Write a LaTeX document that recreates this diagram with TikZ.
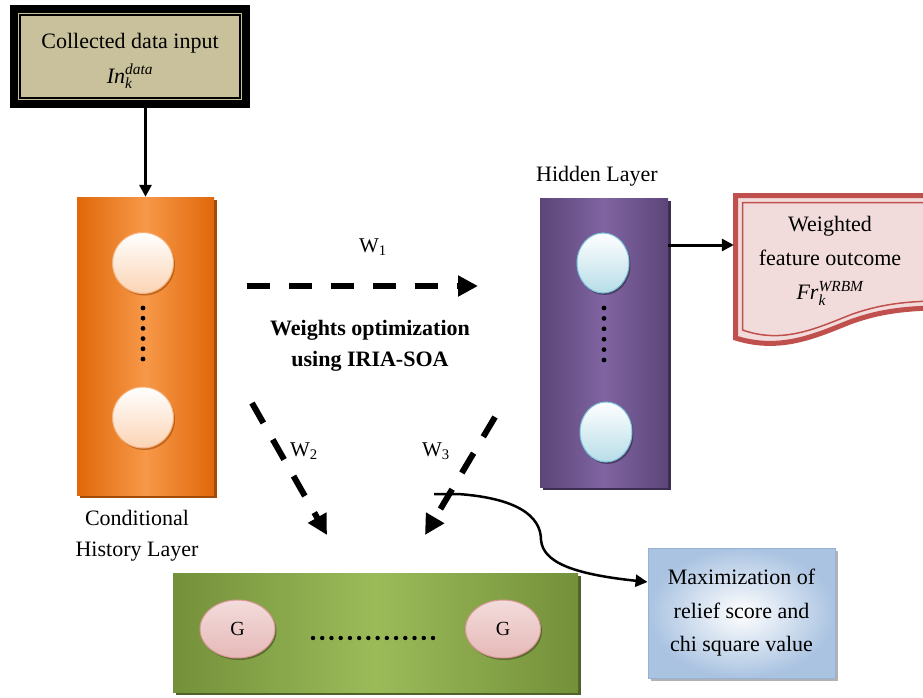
\documentclass[tikz,border=0pt]{standalone}
\usepackage{amsmath}
\usepackage{fontspec}
\setmainfont{Liberation Serif}
\usetikzlibrary{arrows.meta,shapes.geometric,shadows,calc}
\definecolor{beige}{RGB}{200,193,155}
\definecolor{orD}{RGB}{224,104,10}
\definecolor{orL}{RGB}{247,152,72}
\definecolor{orS}{RGB}{160,75,8}
\definecolor{peach}{RGB}{251,212,180}
\definecolor{peachB}{RGB}{245,175,120}
\definecolor{puD}{RGB}{92,70,120}
\definecolor{puL}{RGB}{128,100,162}
\definecolor{puS}{RGB}{60,46,80}
\definecolor{cyanL}{RGB}{183,221,232}
\definecolor{cyanB}{RGB}{120,195,215}
\definecolor{grD}{RGB}{116,144,58}
\definecolor{grL}{RGB}{155,187,89}
\definecolor{grS}{RGB}{79,98,40}
\definecolor{pinkL}{RGB}{242,220,219}
\definecolor{pinkD}{RGB}{230,185,184}
\definecolor{pinkB}{RGB}{217,150,148}
\definecolor{redB}{RGB}{192,80,77}
\definecolor{blL}{RGB}{170,195,225}
\definecolor{blB}{RGB}{149,179,215}
\pgfdeclarehorizontalshading{orsh}{100bp}{color(0bp)=(orD); color(25bp)=(orD); color(50bp)=(orL); color(75bp)=(orD); color(100bp)=(orD)}
\pgfdeclarehorizontalshading{push}{100bp}{color(0bp)=(puD); color(25bp)=(puD); color(50bp)=(puL); color(75bp)=(puD); color(100bp)=(puD)}
\pgfdeclarehorizontalshading{grsh}{100bp}{color(0bp)=(grD); color(25bp)=(grD); color(50bp)=(grL); color(75bp)=(grD); color(100bp)=(grD)}
\tikzset{
  txt/.style={inner sep=0pt, align=center},
  topbox/.style={rectangle, inner sep=0pt, minimum width=232pt, minimum height=95pt,
    fill=beige, draw=black, line width=8pt, align=center},
  orangebox/.style={rectangle, inner sep=0pt, minimum width=137pt, minimum height=298pt,
    shading=orsh,
    drop shadow={shadow xshift=3pt, shadow yshift=-3pt, fill=orS, opacity=1}},
  purplebox/.style={rectangle, inner sep=0pt, minimum width=128pt, minimum height=289pt,
    shading=push,
    drop shadow={shadow xshift=3pt, shadow yshift=-3pt, fill=puS, opacity=1}},
  greenbox/.style={rectangle, inner sep=0pt, minimum width=405pt, minimum height=119pt,
    shading=grsh,
    drop shadow={shadow xshift=3pt, shadow yshift=-3pt, fill=grS, opacity=1}},
  orcirc/.style={circle, inner sep=0pt, minimum size=61pt, top color=white, bottom color=peach,
    draw=peachB, line width=1pt,
    drop shadow={shadow xshift=1.5pt, shadow yshift=-2pt, fill=orS, opacity=0.6}},
  cycirc/.style={ellipse, inner sep=0pt, minimum width=52pt, minimum height=60pt, top color=white, bottom color=cyanL,
    draw=cyanB, line width=1pt,
    drop shadow={shadow xshift=1.5pt, shadow yshift=-2pt, fill=puS, opacity=0.7}},
  gell/.style={ellipse, inner sep=0pt, minimum width=75pt, minimum height=58pt, top color=pinkL, bottom color=pinkD,
    draw=pinkB, line width=1pt, font=\fontsize{20}{24}\selectfont,
    drop shadow={shadow xshift=1.5pt, shadow yshift=-2pt, fill=grS, opacity=0.8}},
  bluebox/.style={rectangle, inner sep=0pt, minimum width=187pt, minimum height=130pt,
    inner color=white, outer color=blL, draw=blB, line width=1pt, align=center,
    drop shadow={shadow xshift=3pt, shadow yshift=-3pt, fill=gray, opacity=0.6}},
  solidarr/.style={line width=3pt, -{Triangle[length=12pt,width=12pt]}},
  dasharr/.style={line width=6pt, dash pattern=on 23pt off 19pt, -{Triangle[length=20pt,width=20pt]}},
  wlbl/.style={inner sep=0pt, font=\fontsize{21}{25}\selectfont}
}
\begin{document}
\begin{tikzpicture}[x=1pt,y=-1pt,font=\fontsize{22}{35}\selectfont]
\useasboundingbox[fill=white] (0,0) rectangle (923,698);

% top input box
\node[topbox] (top) at (130,56.5) {};
\draw[line width=1.6pt] ($(top.north west)+(10,10)$) rectangle ($(top.south east)+(-10,-10)$);
\node[txt] (toptxt) at (130,61) {Collected data input\\ $\textit{In}_{\textit{k}}^{\textit{data}}$};

% conditional history layer
\node[orangebox] (cond) at (145.5,346) {};
\node[orcirc] (c1) at (143,263) {};
\node[orcirc] (c2) at (143,417.5) {};
\foreach \k in {0,...,5} \fill (143,308+10.2*\k) circle (2.4pt);
\node[txt, font=\fontsize{22}{31}\selectfont] (condlbl) at (137,536) {Conditional\\History Layer};

\draw[solidarr] (top.south -| cond.north) -- (cond.north);

% hidden layer
\node[purplebox] (hid) at (604,342.5) {};
\node[cycirc] (h1) at (603,263) {};
\node[cycirc] (h2) at (606,432) {};
\foreach \k in {0,...,5} \fill (604,308+10.4*\k) circle (2.4pt);
\node[txt] (hidlbl) at (597,176) {Hidden Layer};

% weighted feature outcome (document shape)
\fill[pinkL] (735.5,338) -- (735.5,195.5) -- (930,195.5) -- (930,308)
  .. controls (905,309) and (880,311) .. (850,322)
  .. controls (815,336) and (780,352) .. (735.5,338) -- cycle;
\draw[redB, line width=5pt, line join=miter] (930,308)
  .. controls (905,309) and (880,311) .. (850,322)
  .. controls (815,336) and (780,352) .. (735.5,338) -- (735.5,195.5) -- (930,195.5);
\draw[redB, line width=1.5pt, line join=miter] (930,301)
  .. controls (905,302) and (880,304) .. (850,315)
  .. controls (815,329) and (782,344) .. (742.5,330) -- (742.5,202.5) -- (930,202.5);
\node[txt, minimum width=192pt, font=\fontsize{22}{34}\selectfont] (wfo) at (830,261) {Weighted\\feature outcome\\$\textit{Fr}_{\textit{k}}^{\textit{WRBM}}$};

\draw[solidarr] (hid.east |- 0,245) -- (wfo.west |- 0,245);

% generator layer
\node[greenbox] (gb) at (375.5,632.5) {};
\node[gell] (g1) at (237.5,629) {G};
\node[gell] (g2) at (503,629) {G};
\foreach \k in {0,...,13} \fill (313+9.23*\k,638) circle (2.2pt);

% maximization box
\node[bluebox, font=\fontsize{22}{33.5}\selectfont] (maxb) at (741.5,613) {Maximization of\\relief score and\\chi square value};

% weight arrows
\coordinate (w1s) at (247,286);
\coordinate (w1e) at (478,286);
\coordinate (w2s) at (252,403);
\coordinate (w2e) at (327,535);
\coordinate (w3s) at (495,417);
\coordinate (w3e) at (425,535);
\draw[dasharr] (w1s) -- (w1e);
\draw[dasharr] (w2s) -- (w2e);
\draw[dasharr] (w3s) -- (w3e);
\node[wlbl] (w1l) at (373,247) {W\textsubscript{1}};
\node[wlbl] (w2l) at (304,451) {W\textsubscript{2}};
\node[wlbl] (w3l) at (436,451) {W\textsubscript{3}};
\node[txt, font=\bfseries\fontsize{22}{31}\selectfont] (opt) at (370,346) {Weights optimization\\using IRIA-SOA};

% curved connector to maximization box
\coordinate (cs) at (434,494);
\draw[line width=2.5pt, -{Triangle[length=12pt,width=12pt]}] (cs) -- (458,494)
  .. controls (515,498) and (541,515) .. (541,540)
  .. controls (543,562) and (572,574) .. ($(maxb.west)+(0,-31)$);
\end{tikzpicture}
\end{document}
